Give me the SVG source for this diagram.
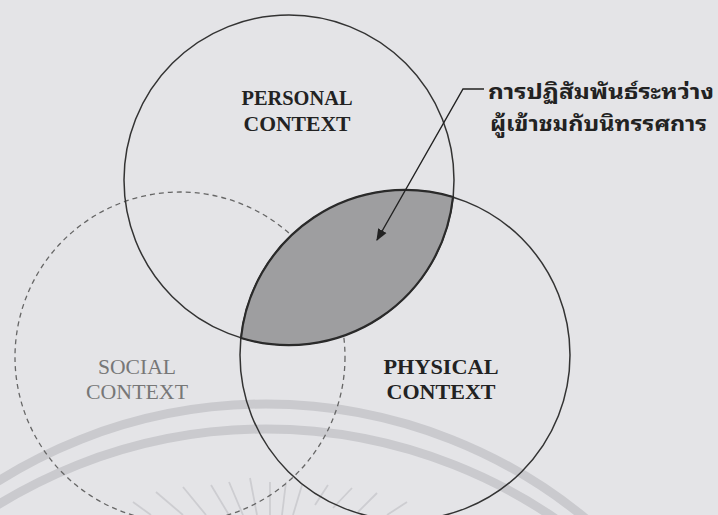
<svg xmlns="http://www.w3.org/2000/svg" width="718" height="515" viewBox="0 0 718 515">
  <style>
    .ring { fill: none; stroke: #333; stroke-width: 1.5; }
    .dash { fill: none; stroke: #666; stroke-width: 1.3; stroke-dasharray: 5 4; }
    .wm { fill: none; stroke: #cacace; stroke-width: 9; }
    .ray { stroke: #cdcdd1; stroke-width: 1.8; }
    .lbl { font-family: "Liberation Serif", "Times New Roman", serif; font-size: 22px; text-anchor: middle; }
    .bold { font-weight: bold; fill: #222; }
    .soft { fill: #777; }
    .thai { font-family: "Noto Sans Thai Looped", "Noto Serif Thai", "Noto Sans Thai", "Loma", "Garuda", "DejaVu Sans", sans-serif; font-size: 21px; font-weight: bold; fill: #222; }
  </style>
  <defs>
    <marker id="ah" viewBox="0 0 10 10" refX="9" refY="5" markerWidth="12" markerHeight="12" markerUnits="userSpaceOnUse" orient="auto">
      <path d="M0,1 L10,5 L0,9 z" fill="#222"/>
    </marker>
  </defs>
  <rect width="718" height="515" fill="#e4e4e7"/>
  <g id="watermark">
    <circle class="wm" cx="266" cy="907" r="503"/>
    <circle class="wm" cx="266" cy="940" r="511"/>
    <line class="ray" x1="133" y1="502" x2="151" y2="515"/>
    <line class="ray" x1="156" y1="492" x2="183" y2="515"/>
    <line class="ray" x1="183" y1="487" x2="206" y2="515"/>
    <line class="ray" x1="211" y1="485" x2="229" y2="515"/>
    <line class="ray" x1="229" y1="482" x2="243" y2="515"/>
    <line class="ray" x1="250" y1="478" x2="257" y2="515"/>
    <line class="ray" x1="270" y1="482" x2="270" y2="515"/>
    <line class="ray" x1="286" y1="482" x2="282" y2="515"/>
    <line class="ray" x1="302" y1="485" x2="293" y2="515"/>
    <line class="ray" x1="328" y1="485" x2="315" y2="505"/>
    <line class="ray" x1="352" y1="488" x2="333" y2="508"/>
    <line class="ray" x1="377" y1="493" x2="358" y2="512"/>
    <line class="ray" x1="407" y1="502" x2="387" y2="515"/>
  </g>
  <g id="social">
    <circle class="dash" cx="180" cy="357" r="165"/>
    <text class="lbl soft" x="137" y="374" textLength="78" lengthAdjust="spacingAndGlyphs">SOCIAL</text>
    <text class="lbl soft" x="137" y="399" textLength="102" lengthAdjust="spacingAndGlyphs">CONTEXT</text>
  </g>
  <g id="personal">
    <circle class="ring" cx="289" cy="180" r="165"/>
    <text class="lbl bold" x="297" y="105" textLength="111" lengthAdjust="spacingAndGlyphs">PERSONAL</text>
    <text class="lbl bold" x="297" y="131" textLength="107" lengthAdjust="spacingAndGlyphs">CONTEXT</text>
  </g>
  <g id="physical">
    <circle class="ring" cx="405" cy="355" r="165"/>
    <text class="lbl bold" x="441" y="374" textLength="115" lengthAdjust="spacingAndGlyphs">PHYSICAL</text>
    <text class="lbl bold" x="441" y="399" textLength="109" lengthAdjust="spacingAndGlyphs">CONTEXT</text>
  </g>
  <g id="interaction">
    <path d="M241,338 A165,165 0 0 1 453,197 A165,165 0 0 1 241,338 Z" fill="#9e9ea0" stroke="#2a2a2a" stroke-width="2.2"/>
    <text class="thai" x="488" y="99" textLength="226" lengthAdjust="spacingAndGlyphs">การปฏิสัมพันธ์ระหว่าง</text>
    <text class="thai" x="490" y="131" textLength="217" lengthAdjust="spacingAndGlyphs">ผู้เข้าชมกับนิทรรศการ</text>
  </g>
  <g id="connectors">
    <polyline points="484,89 463,89 377,240" fill="none" stroke="#222" stroke-width="1.4" marker-end="url(#ah)"/>
  </g>
</svg>
